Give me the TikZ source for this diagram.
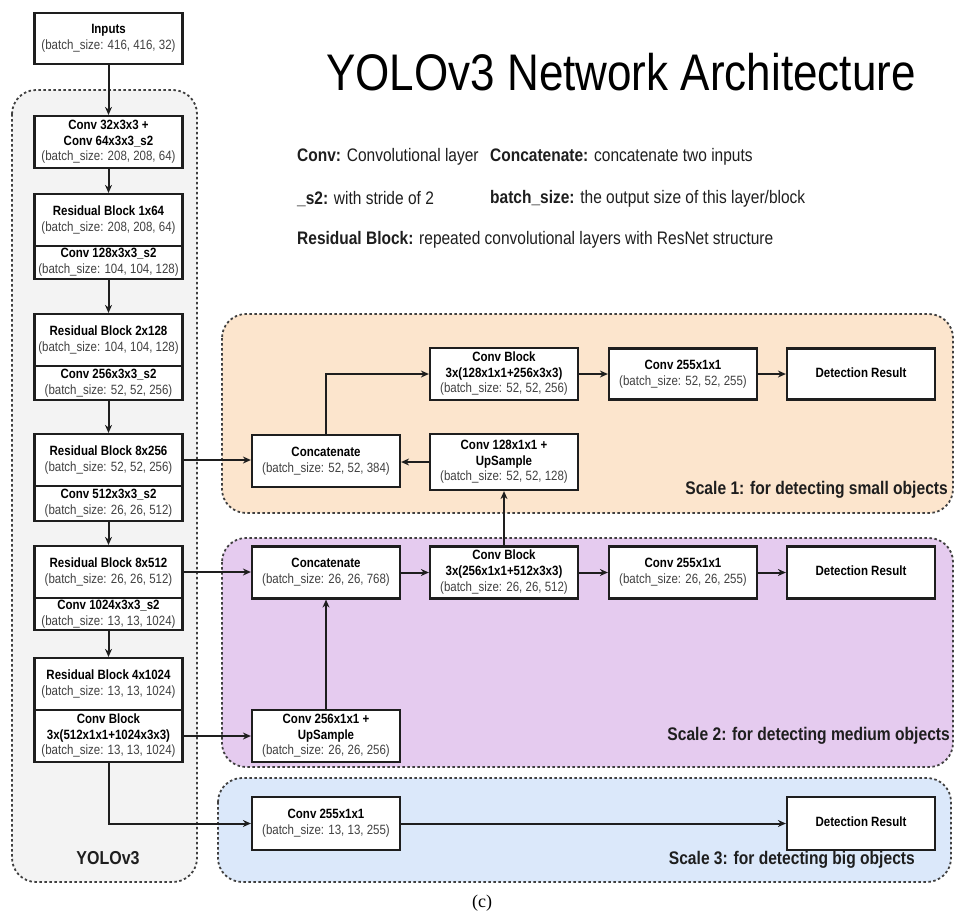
\documentclass[tikz,border=0pt]{standalone}
\usepackage{fontspec}
\usepackage{graphicx}
\setmainfont{Liberation Sans}
\newfontfamily\capfont{Liberation Serif}
\usetikzlibrary{arrows.meta}

\definecolor{yolobg}{RGB}{243,243,243}
\definecolor{smallbg}{RGB}{252,229,205}
\definecolor{medbg}{RGB}{229,203,239}
\definecolor{bigbg}{RGB}{219,232,250}
\definecolor{ink}{RGB}{30,30,30}
\definecolor{subink}{RGB}{65,65,65}

% text is set slightly taller than wide, as in the original artwork
\newcommand\vstretch[1]{\scalebox{1}[1.17]{\begin{tabular}{@{}c@{}}#1\end{tabular}}}
\newcommand\bsz[1]{{\color{subink}(batch\_size: #1)}}

\tikzset{
  layer/.style={draw=ink, line width=2.2pt, fill=white, minimum width=148pt,
    inner sep=0pt, font=\fontsize{11.5}{13.5}\selectfont},
  link/.style={draw=ink, line width=2pt, -{Stealth[length=8pt,width=7pt]}},
  region/.style={draw=ink!85, line width=1.8pt, dash pattern=on 2.5pt off 2.5pt,
    rounded corners=24pt},
  scalelabel/.style={anchor=east, inner sep=0pt, text=ink,
    font=\bfseries\fontsize{15.6}{18}\selectfont},
  legend/.style={anchor=west, inner sep=0pt, text=ink,
    font=\fontsize{15.5}{18}\selectfont},
}

\begin{document}
\begin{tikzpicture}[x=1pt,y=-1pt]
\fill[white] (0,0) rectangle (955,916);
\useasboundingbox (0,0) rectangle (955,916);

% background regions
\draw[region, fill=yolobg] (12,90) rectangle (197,882);
\draw[region, fill=smallbg] (222,314) rectangle (953,513);
\draw[region, fill=medbg] (222,538) rectangle (953,767);
\draw[region, fill=bigbg] (218,778) rectangle (951,882);

% title and legend
\node[inner sep=0pt, font=\fontsize{44}{50}\selectfont] (title) at (621,72)
  {\scalebox{1}[1.17]{YOLOv3 Network Architecture}};
\node[legend] (leg1) at (297,157) {\scalebox{1}[1.17]{\textbf{Conv:} Convolutional layer}};
\node[legend] (leg2) at (490,157) {\scalebox{1}[1.17]{\textbf{Concatenate:} concatenate two inputs}};
\node[legend] (leg3) at (297,199) {\scalebox{1}[1.17]{\textbf{\_s2:} with stride of 2}};
\node[legend] (leg4) at (490,199) {\scalebox{1}[1.17]{\textbf{batch\_size:} the output size of this layer/block}};
\node[legend] (leg5) at (297,240) {\scalebox{1}[1.17]{\textbf{Residual Block:} repeated convolutional layers with ResNet structure}};

% backbone
\node[layer, minimum height=51pt] (inputs) at (108.5,38.5)
  {\vstretch{\textbf{Inputs}\\ \bsz{416, 416, 32}}};
\node[layer, minimum height=52pt] (c1) at (108.5,142)
  {\vstretch{\textbf{Conv 32x3x3 +}\\ \textbf{Conv 64x3x3\_s2}\\ \bsz{208, 208, 64}}};
\node[layer, minimum height=52pt] (r1a) at (108.5,220)
  {\vstretch{\textbf{Residual Block 1x64}\\ \bsz{208, 208, 64}}};
\node[layer, minimum height=33pt] (r1b) at (108.5,262.5)
  {\vstretch{\textbf{Conv 128x3x3\_s2}\\ \bsz{104, 104, 128}}};
\node[layer, minimum height=52pt] (r2a) at (108.5,340)
  {\vstretch{\textbf{Residual Block 2x128}\\ \bsz{104, 104, 128}}};
\node[layer, minimum height=34pt] (r2b) at (108.5,383)
  {\vstretch{\textbf{Conv 256x3x3\_s2}\\ \bsz{52, 52, 256}}};
\node[layer, minimum height=52pt] (r3a) at (108.5,460)
  {\vstretch{\textbf{Residual Block 8x256}\\ \bsz{52, 52, 256}}};
\node[layer, minimum height=35pt] (r3b) at (108.5,503.5)
  {\vstretch{\textbf{Conv 512x3x3\_s2}\\ \bsz{26, 26, 512}}};
\node[layer, minimum height=52pt] (r4a) at (108.5,572)
  {\vstretch{\textbf{Residual Block 8x512}\\ \bsz{26, 26, 512}}};
\node[layer, minimum height=32pt] (r4b) at (108.5,614)
  {\vstretch{\textbf{Conv 1024x3x3\_s2}\\ \bsz{13, 13, 1024}}};
\node[layer, minimum height=52pt] (r5a) at (108.5,684)
  {\vstretch{\textbf{Residual Block 4x1024}\\ \bsz{13, 13, 1024}}};
\node[layer, minimum height=52pt] (r5b) at (108.5,736)
  {\vstretch{\textbf{Conv Block}\\ \textbf{3x(512x1x1+1024x3x3)}\\ \bsz{13, 13, 1024}}};
\node[inner sep=0pt, text=ink, font=\bfseries\fontsize{16}{18}\selectfont] (yololabel) at (108,858)
  {\scalebox{1}[1.17]{YOLOv3}};

% scale 1
\node[layer, minimum height=52pt] (s1blk) at (504,374)
  {\vstretch{\textbf{Conv Block}\\ \textbf{3x(128x1x1+256x3x3)}\\ \bsz{52, 52, 256}}};
\node[layer, minimum height=51pt] (s1conv) at (683,374)
  {\vstretch{\textbf{Conv 255x1x1}\\ \bsz{52, 52, 255}}};
\node[layer, minimum height=51pt] (s1det) at (861,374)
  {\vstretch{\textbf{Detection Result}}};
\node[layer, minimum height=52pt] (s1cat) at (326,461)
  {\vstretch{\textbf{Concatenate}\\ \bsz{52, 52, 384}}};
\node[layer, minimum height=56pt] (s1up) at (504,462)
  {\vstretch{\textbf{Conv 128x1x1 +}\\ \textbf{UpSample}\\ \bsz{52, 52, 128}}};
\node[scalelabel] (s1label) at (948,490)
  {\scalebox{1}[1.17]{Scale 1: for detecting small objects}};

% scale 2
\node[layer, minimum height=52pt] (s2cat) at (326,572.5)
  {\vstretch{\textbf{Concatenate}\\ \bsz{26, 26, 768}}};
\node[layer, minimum height=52pt] (s2blk) at (504,572.5)
  {\vstretch{\textbf{Conv Block}\\ \textbf{3x(256x1x1+512x3x3)}\\ \bsz{26, 26, 512}}};
\node[layer, minimum height=52pt] (s2conv) at (683,572.5)
  {\vstretch{\textbf{Conv 255x1x1}\\ \bsz{26, 26, 255}}};
\node[layer, minimum height=52pt] (s2det) at (861,572.5)
  {\vstretch{\textbf{Detection Result}}};
\node[layer, minimum height=52pt] (s2up) at (326,736)
  {\vstretch{\textbf{Conv 256x1x1 +}\\ \textbf{UpSample}\\ \bsz{26, 26, 256}}};
\node[scalelabel] (s2label) at (950,736)
  {\scalebox{1}[1.17]{Scale 2: for detecting medium objects}};

% scale 3
\node[layer, minimum height=53pt] (s3conv) at (326,823.5)
  {\vstretch{\textbf{Conv 255x1x1}\\ \bsz{13, 13, 255}}};
\node[layer, minimum height=53pt] (s3det) at (861,823.5)
  {\vstretch{\textbf{Detection Result}}};
\node[scalelabel] (s3label) at (915,860)
  {\scalebox{1}[1.17]{Scale 3: for detecting big objects}};

% backbone connectors
\draw[link] (inputs.south) -- (c1.north);
\draw[link] (c1.south) -- (r1a.north);
\draw[link] (r1b.south) -- (r2a.north);
\draw[link] (r2b.south) -- (r3a.north);
\draw[link] (r3b.south) -- (r4a.north);
\draw[link] (r4b.south) -- (r5a.north);

% branches into the detection heads
\draw[link] (r3a.east) -- (r3a.east -| s1cat.west);
\draw[link] (r4a.east) -- (r4a.east -| s2cat.west);
\draw[link] (r5b.east) -- (r5b.east -| s2up.west);
\draw[link] (r5b.south) |- (s3conv.west);

% scale 1 connectors
\draw[link] (s1cat.north) |- (s1blk.west);
\draw[link] (s1blk.east) -- (s1conv.west);
\draw[link] (s1conv.east) -- (s1det.west);
\draw[link] (s1up.west) -- (s1up.west -| s1cat.east);

% scale 2 connectors
\draw[link] (s2cat.east) -- (s2blk.west);
\draw[link] (s2blk.east) -- (s2conv.west);
\draw[link] (s2conv.east) -- (s2det.west);
\draw[link] (s2blk.north) -- (s1up.south);
\draw[link] (s2up.north) -- (s2cat.south);

% scale 3 connector
\draw[link] (s3conv.east) -- (s3det.west);

% caption
\node[inner sep=0pt, font=\capfont\fontsize{18}{20}\selectfont] (caption) at (482,903) {(c)};
\end{tikzpicture}
\end{document}
